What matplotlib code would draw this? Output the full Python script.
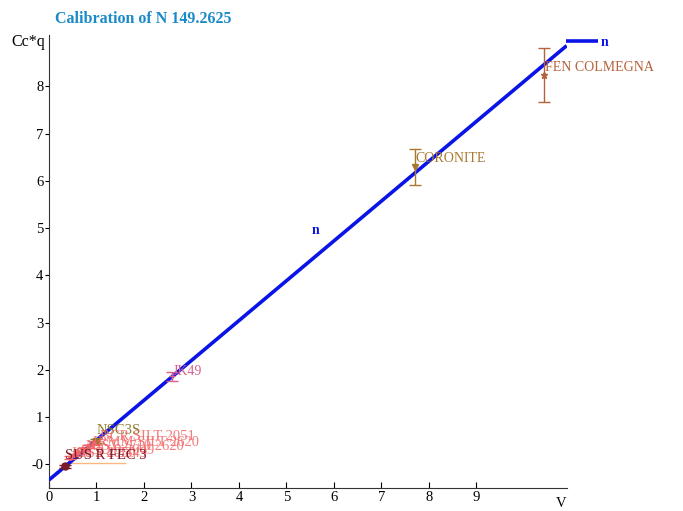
import numpy as np
import matplotlib.pyplot as plt

plt.rcParams['font.family'] = ['Liberation Serif', 'DejaVu Serif']

# calibration line end points (V, Cc*q)
line_x = [0.0, 10.9]
line_y = [-0.33, 8.86]

# reference samples
label_text = ['FEN COLMEGNA', 'CORONITE', 'JK49', 'SUS R FEC 3', 'NSC3S',
              'BCR SILT 2051', 'IRMM SILT 2620', 'NIST 2710 2620', 'GSD 9 2049',
              'GSS 4 3349', 'JSd 2 2050']
vx = [10.42, 7.70, 2.59, 0.34, 0.98, 0.95, 0.82, 0.72, 0.62, 0.52, 0.44]
cy = [8.24, 6.30, 1.86, -0.04, 0.50, 0.46, 0.38, 0.32, 0.26, 0.20, 0.14]
err = [0.58, 0.38, 0.10, 0.03, 0.04, 0.04, 0.04, 0.03, 0.03, 0.03, 0.03]
colors = ['#b5613a', '#a8782e', '#d9608a', '#7a1a2a', '#8c7a2a',
          '#f26565', '#f26565', '#f26565', '#f26565', '#f26565', '#f26565']
markers = ['*', 'v', '+', 'o', 's', '.', '.', '.', '.', '.', '.']
label_dx = [0.02, 0.02, 0.02, 0.0, 0.03, 0.12, 0.1, 0.05, 0.05, 0.05, 0.02]
label_dy = [0.15, 0.17, 0.1, 0.23, 0.21, 0.13, 0.08, 0.06, 0.04, 0.02, 0.10]
label_alpha = [1, 1, 1, 1, 1, 0.85, 0.85, 0.85, 0.85, 0.85, 0.85]

fig = plt.figure(figsize=(6.83, 5.11), dpi=100)
ax = fig.add_axes([0.0717, 0.045, 0.758, 0.886])

ln, = ax.plot(line_x, line_y, color='#0a14e6', lw=2.6, solid_capstyle='butt',
              label='n', zorder=3)
ax.text(5.62, 4.94, 'n', color='#0a14e6', fontsize=10, fontweight='bold',
        ha='center', va='center')

for i in range(len(label_text)):
    ax.errorbar(vx[i], cy[i], yerr=err[i], fmt=markers[i], color=colors[i],
                ms=5, capsize=4, elinewidth=1, zorder=4)
    ax.text(vx[i] + label_dx[i], cy[i] + label_dy[i], label_text[i],
            color=colors[i], fontsize=10.5 if i >= 3 else 10, ha='left',
            va='center', alpha=label_alpha[i], zorder=6 if i == 3 else 5)

ax.plot([0.27, 1.6], [0.02, 0.02], color='#f5a860', lw=1, alpha=0.8, zorder=2)

ax.set_xlim(0, 10.9)
ax.set_ylim(-0.5, 9.08)
ax.set_xticks(range(10))
ax.set_yticks(range(9))
ax.set_yticklabels(['-0'] + [str(i) for i in range(1, 9)])
ax.tick_params(axis='x', direction='in', length=4, labelsize=10.5, pad=2)
ax.tick_params(axis='y', direction='out', length=3, labelsize=10.5, pad=1)
for s in ['top', 'right']:
    ax.spines[s].set_visible(False)
for s in ['left', 'bottom']:
    ax.spines[s].set_color('#333333')

fig.text(0.08, 0.962, 'Calibration of N 149.2625', color='#1a8ac8',
         fontsize=11.5, fontweight='bold', ha='left', va='center')
fig.text(0.016, 0.917, 'Cc*q', fontsize=11.5, ha='left', va='center')
fig.text(0.822, 0.015, 'V', fontsize=10.5, ha='center', va='center')

leg = ax.legend(handles=[ln], loc='center left', bbox_to_anchor=(0.975, 0.984),
                frameon=False, handlelength=2.3, handletextpad=0.2,
                labelcolor='#0a14e6', fontsize=10, prop={'weight': 'bold'})

fig.savefig('out.png', dpi=100)
